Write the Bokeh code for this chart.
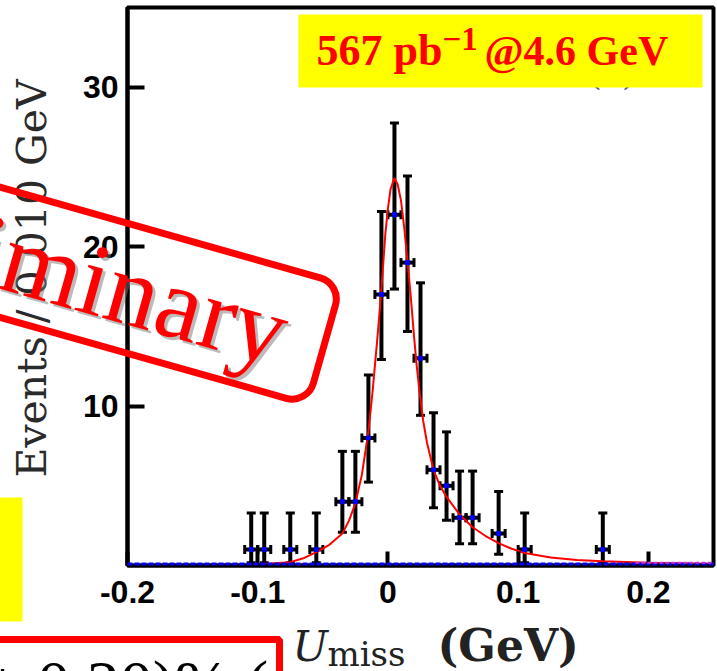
import math
from bokeh.plotting import figure
from bokeh.models import (Range1d, FixedTicker, Whisker, TeeHead, ColumnDataSource,
                          CustomJSTickFormatter)
from bokeh.core.properties import value
from bokeh.embed import file_html
from bokeh.resources import INLINE

# ---------------- data ----------------
bin_centers = [-0.105, -0.095, -0.075, -0.055, -0.035, -0.025, -0.015, -0.005, 0.005,
               0.015, 0.025, 0.035, 0.045, 0.055, 0.065, 0.085, 0.105, 0.165]
counts = [1, 1, 1, 1, 4, 4, 8, 17, 22, 19, 13, 6, 5, 3, 3, 2, 1, 1]
err_low = [0.83, 0.83, 0.83, 0.83, 1.91, 1.91, 2.77, 4.08, 4.66, 4.32, 3.58, 2.38, 2.16,
           1.63, 1.63, 1.29, 0.83, 0.83]
err_high = [2.30, 2.30, 2.30, 2.30, 3.16, 3.16, 3.95, 5.20, 5.76, 5.43, 4.73, 3.58, 3.38,
            2.92, 2.92, 2.64, 2.30, 2.30]
bin_half_width = 0.005

fit_x = [-0.2, -0.15, -0.11, -0.09, -0.075, -0.065, -0.055, -0.045, -0.035, -0.03, -0.025,
         -0.02, -0.015, -0.0117, -0.0085, -0.0053, -0.002, 0.0, 0.002, 0.0049, 0.0075, 0.010,
         0.0125, 0.0151, 0.0175, 0.020, 0.022, 0.0241, 0.027, 0.030, 0.035, 0.040, 0.045,
         0.055, 0.065, 0.075, 0.085, 0.095, 0.105, 0.125, 0.145, 0.165, 0.2, 0.25]
fit_y = [0.02, 0.03, 0.06, 0.12, 0.21, 0.45, 0.84, 1.3, 2.0, 2.8, 3.9,
         5.7, 8.4, 11.0, 13.9, 17.0, 20.8, 22.4, 23.6, 24.3, 23.9, 22.9,
         21.2, 19.0, 16.9, 14.4, 12.6, 11.0, 9.1, 7.7, 6.0, 5.0, 4.3,
         3.2, 2.4, 1.85, 1.4, 1.05, 0.78, 0.5, 0.35, 0.27, 0.18, 0.1]

bkg_x = [-0.2, 0.25]
bkg_y = [0.1, 0.1]
peak_bkg_x = [0.19, 0.25]
peak_bkg_y = [0.18, 0.18]

x_ticks = [-0.2, -0.1, 0.0, 0.1, 0.2]
y_ticks = [10, 20, 30]

x_label_main = "U"
x_label_sub = "miss"
x_label_unit = "(GeV)"
y_label = "Events / 0.010 GeV"
lumi_text_a = "567 pb"
lumi_text_sup = "\u22121"
lumi_text_b = "@4.6 GeV"
stamp_text = "Preliminary"
panel_tag = "(a)"
result_text = "\u00b1 0.20)% ("

# ---------------- figure ----------------
W, H = 717, 671
FL, FR, FT, FB = 127, 713, 7, 565          # frame edges in canvas pixels
X0, X1, Y0, Y1 = -0.2, 0.25, 0.0, 35.0
p = figure(width=W, height=H, output_backend="svg", toolbar_location=None,
           x_range=Range1d(X0, X1), y_range=Range1d(Y0, Y1),
           min_border_left=FL, min_border_right=W - FR, min_border_top=FT,
           min_border_bottom=H - FB, background_fill_color="white",
           border_fill_color="white")
p.grid.visible = False
p.outline_line_color = "black"
p.outline_line_width = 4

tick_font = "Liberation Sans"
for ax, tin in ((p.xaxis, 14), (p.yaxis, 17)):
    ax.axis_line_width = 4
    ax.axis_line_color = "black"
    ax.major_tick_in = tin
    ax.major_tick_out = 0
    ax.minor_tick_in = 0
    ax.minor_tick_out = 0
    ax.major_tick_line_width = 4
    ax.major_label_text_font = tick_font
    ax.major_label_text_font_style = "bold"
    ax.major_label_text_font_size = "32px"
    ax.major_label_text_color = "black"

p.xaxis.ticker = FixedTicker(ticks=x_ticks, minor_ticks=[])
p.yaxis.ticker = FixedTicker(ticks=y_ticks, minor_ticks=[])
p.xaxis.formatter = CustomJSTickFormatter(code="return tick == 0 ? '0' : tick.toFixed(1);")
p.xaxis.major_label_standoff = 15
p.yaxis.major_label_standoff = 9

# ---------------- data marks ----------------
src = ColumnDataSource(dict(
    x=bin_centers, y=counts,
    lo=[c - e for c, e in zip(counts, err_low)],
    hi=[c + e for c, e in zip(counts, err_high)],
    xl=[x - bin_half_width for x in bin_centers],
    xr=[x + bin_half_width for x in bin_centers],
))

p.add_layout(Whisker(base="x", lower="lo", upper="hi", dimension="height", source=src,
                     line_width=4, line_color="black",
                     upper_head=TeeHead(size=9, line_width=3, line_color="black"),
                     lower_head=TeeHead(size=9, line_width=3, line_color="black")))
p.add_layout(Whisker(base="y", lower="xl", upper="xr", dimension="width", source=src,
                     line_width=4, line_color="black",
                     upper_head=TeeHead(size=9, line_width=3, line_color="black"),
                     lower_head=TeeHead(size=9, line_width=3, line_color="black")))

p.line(fit_x, fit_y, line_color="#ff0000", line_width=2)
p.scatter("x", "y", source=src, marker="square", size=4, color="#0000ff")
p.line(bkg_x, bkg_y, line_color="#0000ff", line_width=3, line_dash="5 2", level="overlay")
p.line(peak_bkg_x, peak_bkg_y, line_color="#cc33cc", line_width=2, line_dash="4 2",
       level="overlay")


# ---------------- decorations (placed by canvas pixel, drawn unclipped) ----------------
def cx(px):
    return X0 + (px - FL) / (FR - FL) * (X1 - X0)


def cy(py):
    return Y0 + (FB - py) / (FB - FT) * (Y1 - Y0)


BASE_SHIFT = 0.36  # alphabetic anchor correction, fraction of font size


def deco_text(t, x, y, size, font="DejaVu Serif", color="black", style="normal",
              angle=0.0, alpha=1.0):
    # (x, y): wanted baseline start point in canvas pixels
    ax_ = x - BASE_SHIFT * size * math.sin(angle)
    ay_ = y - BASE_SHIFT * size * math.cos(angle)
    p.text(x=[cx(ax_)], y=[cy(ay_)], text=[t], text_font=value(font),
           text_font_size=value(f"{size}px"), text_color=color, text_alpha=alpha,
           text_font_style=style, angle=angle, text_align="left",
           text_baseline="alphabetic", level="overlay")


def deco_box(l, t, r, b, fill=None, line=None, lw=0):
    p.quad(left=[cx(l)], right=[cx(r)], top=[cy(t)], bottom=[cy(b)],
           fill_color=fill, fill_alpha=1.0 if fill else 0.0,
           line_color=line, line_width=lw, line_alpha=1.0 if line else 0.0,
           level="overlay")


# y axis title (rotated)
deco_text(y_label, 46, 477, 41, color="#2a2a2a", angle=math.pi / 2)

# x axis title
deco_text(x_label_main, 292, 661, 42, style="italic", color="#222222")
deco_text(x_label_sub, 327, 666, 34, color="#222222")
deco_text(x_label_unit, 437, 661, 44, style="bold", color="#222222")

# panel tag hidden behind the yellow box
deco_text(panel_tag, 588, 85, 34, color="#555577")

# luminosity box
deco_box(298, 14, 702, 87, fill="#ffff00")
deco_text(lumi_text_a, 316, 66, 44, font="Liberation Serif", style="bold", color="#ff0000")
deco_text(lumi_text_sup, 442, 50, 33, font="Liberation Serif", style="bold", color="#ff0000")
deco_text(lumi_text_b, 484, 66, 42, font="Liberation Serif", style="bold", color="#ff0000")

# left yellow box and result box (cut by the picture edge)
deco_box(-5, 497, 22, 621, fill="#ffff00")
deco_box(-12, 639, 279, 720, line="#ff0000", lw=7)
deco_text(result_text, -16, 707, 66, font="Liberation Serif", color="black")

# "Preliminary" stamp
ang = -math.radians(15.8)
sx, sy = -193, 236
deco_text(stamp_text, sx + 3, sy + 3, 103, font="Liberation Serif", color="#777777",
          angle=ang, alpha=0.5)
deco_text(stamp_text, sx, sy, 103, font="Liberation Serif", color="#ff0000", angle=ang)
p.text(x=[cx(64)], y=[cy(270)], text=[" "], text_font_size=value("1px"),
       text_align="center", text_baseline="middle", angle=ang,
       padding=dict(left=270, right=270, top=62, bottom=62),
       border_line_color="#ff0000", border_line_width=7, border_radius=22,
       level="overlay")

open("out.html", "w").write(file_html(p, INLINE))
